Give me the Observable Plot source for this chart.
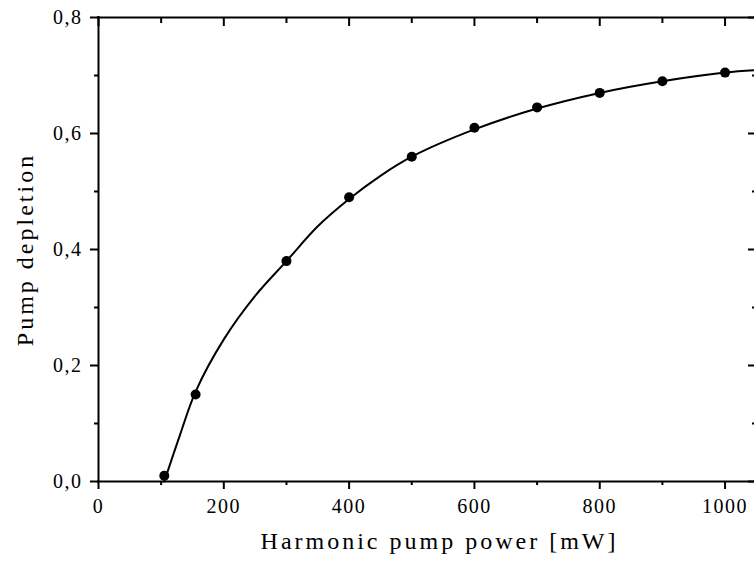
<!DOCTYPE html>
<html>
<head>
<meta charset="utf-8">
<script src="https://cdn.jsdelivr.net/npm/d3@7"></script>
<script src="https://cdn.jsdelivr.net/npm/@observablehq/plot@0.6"></script>
<style>
  html, body { margin: 0; padding: 0; background: #fff; }
  svg, svg text { font-family: "Liberation Serif", "Times New Roman", Times, serif; }
</style>
</head>
<body>
<div id="chart"></div>
<script>
// measured data points
const powerMW = [105, 155, 300, 400, 500, 600, 700, 800, 900, 1000];
const depletion = [0.01, 0.15, 0.38, 0.49, 0.56, 0.61, 0.645, 0.67, 0.69, 0.705];

// fitted curve
const fitX = [105, 130, 155, 200, 250, 300, 350, 400, 450, 500, 600, 700, 800, 900, 1000, 1047];
const fitY = [0.0, 0.08, 0.155, 0.245, 0.32, 0.38, 0.44, 0.487, 0.527, 0.56, 0.607, 0.643, 0.670, 0.690, 0.705, 0.709];

// ticks
const xTicks = [0, 200, 400, 600, 800, 1000];
const xMinor = [100, 300, 500, 700, 900];
const yTicks = [0, 0.2, 0.4, 0.6, 0.8];
const yMinor = [0.1, 0.3, 0.5, 0.7];
const yTickLabels = ["0,0", "0,2", "0,4", "0,6", "0,8"];

const xTitle = "Harmonic pump power [mW]";
const yTitle = "Pump depletion";

const points = powerMW.map((x, i) => ({x, y: depletion[i]}));
const fit = fitX.map((x, i) => ({x, y: fitY[i]}));
const none = () => "";

const chart = Plot.plot({
  width: 754,
  height: 563,
  marginLeft: 98,
  marginRight: 0,
  marginTop: 17,
  marginBottom: 82,
  style: {fontSize: "20px", color: "#000", background: "#fff"},
  x: {domain: [0, 1047]},
  y: {domain: [0, 0.8]},
  marks: [
    // frame lines
    Plot.ruleY([0, 0.8], {stroke: "#000", strokeWidth: 2, strokeLinecap: "square"}),
    Plot.ruleX([0], {stroke: "#000", strokeWidth: 2, strokeLinecap: "square"}),
    // bottom axis
    Plot.axisX({anchor: "bottom", ticks: xTicks, tickSize: 8, tickPadding: 9, strokeWidth: 2,
      tickFormat: d => String(d), label: null, fontSize: 20}),
    Plot.axisX({anchor: "bottom", ticks: xMinor, tickSize: 4, strokeWidth: 2, tickFormat: none, label: null}),
    // top axis inward ticks
    Plot.axisX({anchor: "top", ticks: xTicks, tickSize: -8, strokeWidth: 2, tickFormat: none, label: null}),
    Plot.axisX({anchor: "top", ticks: xMinor, tickSize: -5, strokeWidth: 2, tickFormat: none, label: null}),
    // left axis
    Plot.axisY({anchor: "left", ticks: yTicks, tickSize: 8, tickPadding: 8, strokeWidth: 2,
      tickFormat: d => yTickLabels[yTicks.findIndex(t => Math.abs(t - d) < 1e-9)], label: null, fontSize: 20}),
    Plot.axisY({anchor: "left", ticks: yMinor, tickSize: 4, strokeWidth: 2, tickFormat: none, label: null}),
    // right axis inward ticks
    Plot.axisY({anchor: "right", ticks: yTicks, tickSize: -7, strokeWidth: 2, tickFormat: none, label: null}),
    Plot.axisY({anchor: "right", ticks: yMinor, tickSize: -3, strokeWidth: 2, tickFormat: none, label: null}),
    // fitted curve
    Plot.line(fit, {x: "x", y: "y", curve: "catmull-rom", stroke: "#000", strokeWidth: 2}),
    // data points
    Plot.dot(points, {x: "x", y: "y", r: 5, fill: "#000", stroke: "none"}),
    // axis titles
    Plot.text([xTitle], {frameAnchor: "bottom", text: d => d, textAnchor: "middle", dx: 13, dy: 67,
      lineAnchor: "bottom", fontSize: 24, fill: "#000"}),
    Plot.text([yTitle], {frameAnchor: "left", text: d => d, textAnchor: "middle", dx: -66, rotate: -90,
      lineAnchor: "bottom", fontSize: 24, fill: "#000"})
  ]
});
chart.querySelectorAll("text").forEach(t => {
  if (t.textContent.length > 6) t.style.letterSpacing = "3px";
  else t.style.letterSpacing = "1.5px";
});
document.getElementById("chart").appendChild(chart);
</script>
</body>
</html>
